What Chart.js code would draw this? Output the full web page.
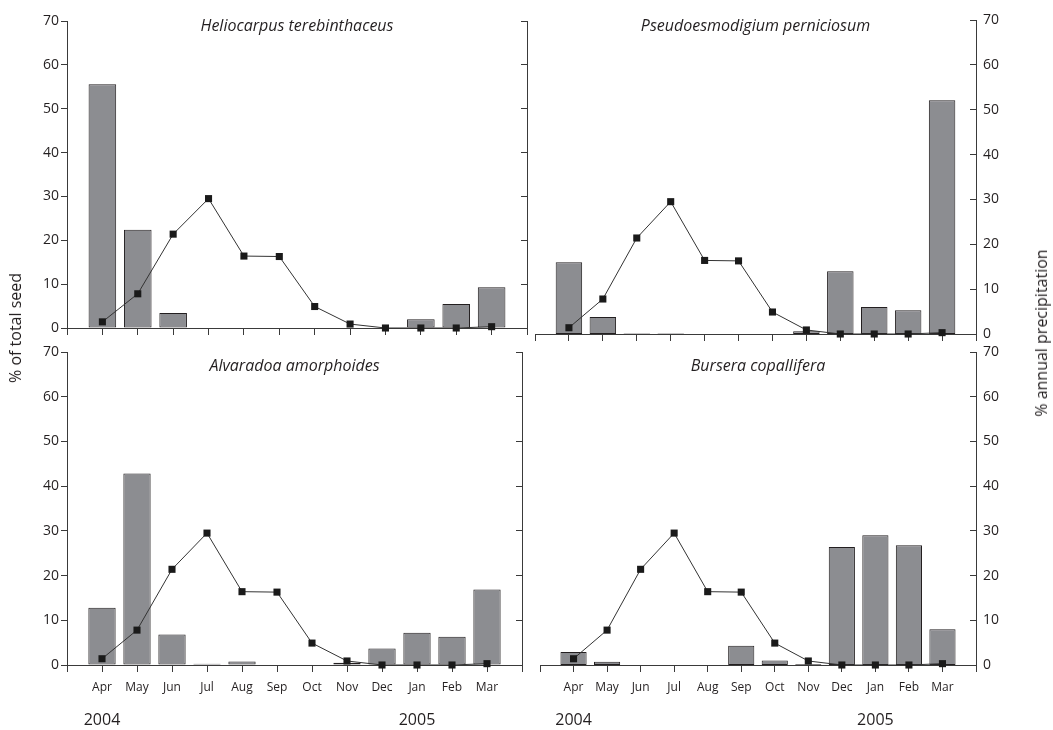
<!DOCTYPE html>
<html>
<head>
<meta charset="utf-8">
<title>Seed rain and precipitation</title>
<script src="https://cdn.jsdelivr.net/npm/chart.js@4.4.1/dist/chart.umd.min.js"></script>
<style>
  body { margin: 0; background: #fff; }
  #wrap { position: relative; width: 1053px; height: 730px; overflow: hidden; font-family: "Open Sans", sans-serif; color: #231f20; }
  .panel { position: absolute; }
  .axisTitle { position: absolute; font-size: 16px; color: #231f20; white-space: nowrap; transform: translate(-50%, -50%) rotate(-90deg); z-index: 5; }
</style>
</head>
<body>
<div id="wrap">
  <div class="panel" style="left:0px;top:0px;width:540px;height:350px"><canvas id="pHelio"></canvas></div>
  <div class="panel" style="left:520px;top:-4px;width:533px;height:362px"><canvas id="pPseudo"></canvas></div>
  <div class="panel" style="left:0px;top:340px;width:540px;height:390px"><canvas id="pAlva"></canvas></div>
  <div class="panel" style="left:520px;top:328px;width:533px;height:402px"><canvas id="pBursera"></canvas></div>
  <div class="axisTitle" style="left:15px;top:328px">% of total seed</div>
  <div class="axisTitle" style="left:1041px;top:333px">% annual precipitation</div>
</div>
<script>
// months Apr 2004 - Mar 2005
const months = ["Apr", "May", "Jun", "Jul", "Aug", "Sep", "Oct", "Nov", "Dec", "Jan", "Feb", "Mar"];
const years = ["2004", "", "", "", "", "", "", "", "", "2005", "", ""];

// % annual precipitation (same curve in every panel)
const precipitation = [1.4, 7.8, 21.4, 29.5, 16.4, 16.3, 4.9, 0.9, 0, 0, 0, 0.3];

// % of total seed per species
const heliocarpus = [55.6, 22.4, 3.4, 0.1, 0, 0, 0, 0, 0.1, 2.0, 5.5, 9.3];
const pseudoesmodigium = [16.0, 3.8, 0.1, 0.1, 0, 0, 0, 0.6, 14.0, 6.0, 5.3, 52.1];
const alvaradoa = [12.8, 42.8, 6.8, 0.3, 0.8, 0, 0, 0.5, 3.7, 7.2, 6.3, 16.9];
const bursera = [2.9, 0.7, 0, 0, 0, 4.3, 1.0, 0.15, 26.4, 29.0, 26.8, 8.0];

const yMin = 0;
const yMax = 70;
const yStep = 10;

Chart.defaults.font.family = "'Open Sans', sans-serif";
Chart.defaults.color = "#231f20";

const axisColor = "#3a3a3a";

// one empty slot on each side of the months
function padLabels(arr) {
  return [""].concat(arr, [""]);
}
function padData(arr) {
  return [null].concat(arr, [null]);
}

function drawPanel(canvasId, title, seed, box, area, side, bottomRow, titleOffset) {
  const ctx = document.getElementById(canvasId).getContext("2d");
  const leftSide = side === "left";
  const canvasBottom = box.top + box.height;
  const canvasRight = box.left + box.width;
  const xHeight = bottomRow ? 40 : canvasBottom - area.bottom;

  const scales = {
    x: {
      type: "category",
      offset: false,
      grid: { offset: false, drawOnChartArea: false, tickLength: 7, color: axisColor },
      border: { color: axisColor },
      ticks: { display: bottomRow, autoSkip: false, maxRotation: 0, padding: 8, font: { size: 12 } },
      afterFit: function (s) { s.height = xHeight; },
    },
    y: {
      position: "left",
      display: leftSide,
      min: yMin,
      max: yMax,
      ticks: { stepSize: yStep, padding: 2, font: { size: 14 } },
      grid: { drawOnChartArea: false, tickLength: 6, color: axisColor },
      border: { color: axisColor },
    },
    y1: {
      position: "right",
      min: yMin,
      max: yMax,
      // negative tick length -> tick marks point into the plot
      ticks: { display: !leftSide, stepSize: yStep, padding: 13, font: { size: 14 } },
      grid: { drawOnChartArea: false, tickLength: -6, color: axisColor },
      border: { color: axisColor },
      afterFit: function (s) { s.width = canvasRight - area.right; },
    },
  };
  if (leftSide) {
    scales.y.afterFit = function (s) { s.width = area.left - box.left; };
  }
  if (bottomRow) {
    scales.x2 = {
      type: "category",
      position: "bottom",
      labels: padLabels(years),
      offset: false,
      grid: { display: false, drawTicks: false },
      border: { display: false },
      ticks: { autoSkip: false, maxRotation: 0, padding: 6, font: { size: 16 } },
      afterFit: function (s) { s.height = canvasBottom - area.bottom - xHeight; },
    };
  }

  return new Chart(ctx, {
    type: "bar",
    data: {
      labels: padLabels(months),
      datasets: [
        {
          type: "line",
          label: "% annual precipitation",
          data: padData(precipitation),
          yAxisID: "y1",
          borderColor: "#333",
          borderWidth: 1,
          pointStyle: "rect",
          pointRadius: 5,
          pointBackgroundColor: "#1a1a1a",
          pointBorderWidth: 0,
          clip: false,
          order: 0,
        },
        {
          label: "% of total seed",
          data: padData(seed),
          yAxisID: "y",
          backgroundColor: "#8c8d91",
          borderColor: "#231f20",
          borderWidth: 1,
          borderSkipped: false,
          categoryPercentage: 1,
          barPercentage: 0.78,
          order: 1,
        },
      ],
    },
    options: {
      responsive: true,
      maintainAspectRatio: false,
      animation: false,
      layout: {
        padding: {
          top: area.top - box.top,
          left: leftSide ? 0 : area.left - box.left,
          right: 0,
          bottom: 0,
        },
      },
      scales: scales,
      plugins: {
        legend: { display: false },
        tooltip: { enabled: false },
        title: {
          display: true,
          text: title,
          fullSize: false,
          color: "#231f20",
          font: { size: 16, style: "italic", weight: "normal" },
          // zero-height title box so the text sits inside the plot area
          padding: { top: titleOffset, bottom: -(titleOffset + 19.2) },
        },
      },
    },
  });
}

drawPanel("pHelio", "Heliocarpus terebinthaceus", heliocarpus,
  { left: 0, top: 0, width: 540, height: 350 },
  { left: 67, right: 527, top: 21, bottom: 328 }, "left", false, -4);

drawPanel("pPseudo", "Pseudoesmodigium perniciosum", pseudoesmodigium,
  { left: 520, top: -4, width: 533, height: 362 },
  { left: 535, right: 976, top: 20, bottom: 334 }, "right", false, -3);

drawPanel("pAlva", "Alvaradoa amorphoides", alvaradoa,
  { left: 0, top: 340, width: 540, height: 390 },
  { left: 67, right: 522, top: 352, bottom: 665 }, "left", true, 5);

drawPanel("pBursera", "Bursera copallifera", bursera,
  { left: 520, top: 328, width: 533, height: 402 },
  { left: 540, right: 976, top: 352, bottom: 665 }, "right", true, 5);
</script>
</body>
</html>
